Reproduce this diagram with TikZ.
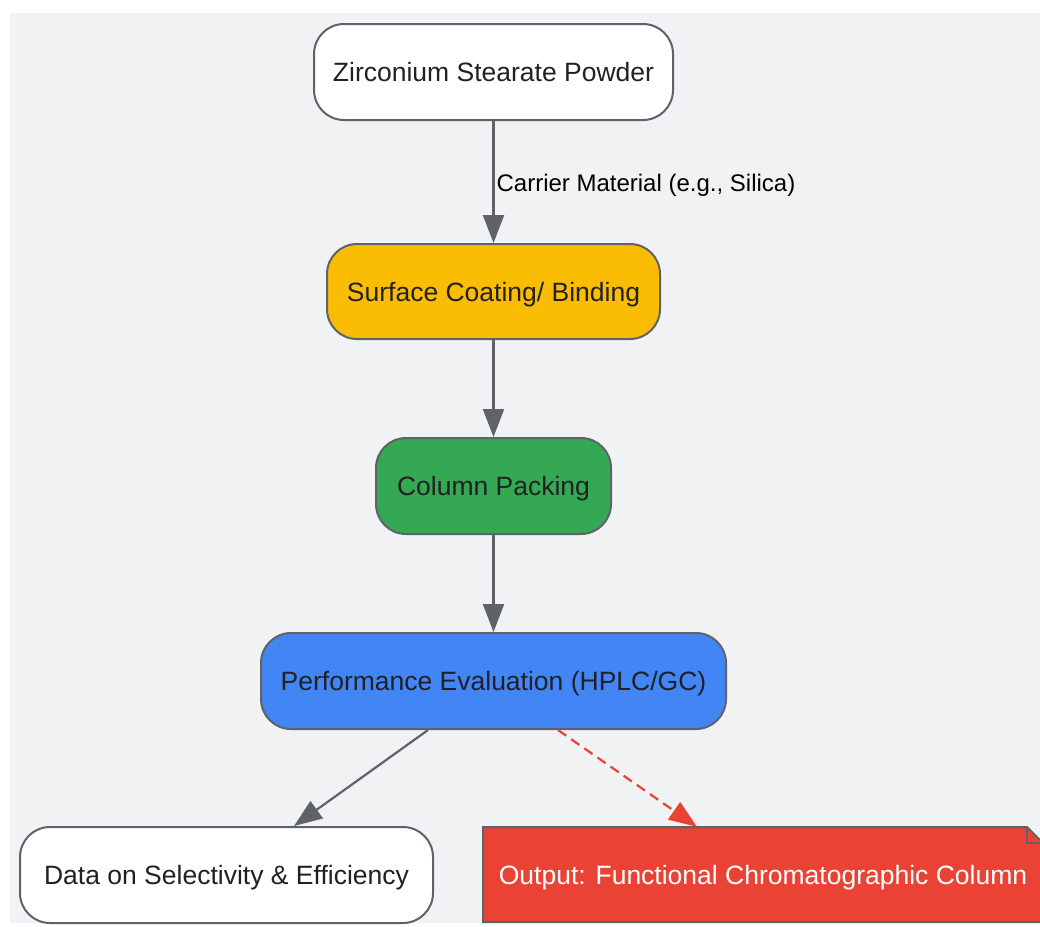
\documentclass[tikz,border=0pt]{standalone}
\usepackage{fontspec}
\setmainfont{Liberation Sans}
\usetikzlibrary{arrows.meta}
\definecolor{bgc}{HTML}{F1F2F4}
\definecolor{edgec}{HTML}{5F6368}
\definecolor{txtc}{HTML}{202124}
\definecolor{yel}{HTML}{FBBC04}
\definecolor{grn}{HTML}{34A853}
\definecolor{blu}{HTML}{4285F4}
\definecolor{rd}{HTML}{EA4335}
\tikzset{
  box/.style={draw=edgec, line width=2pt, rounded corners=30pt, minimum height=96pt,
    text=txtc, font=\fontsize{26.5}{30}\selectfont, inner sep=0pt, text height=19.5pt, text depth=0pt},
  flow/.style={draw=edgec, line width=2.2pt, -{Triangle[length=28pt,width=21pt]}},
  outflow/.style={draw=rd, line width=2.2pt, dash pattern=on 10pt off 6pt, -{Triangle[length=28pt,width=21pt]}},
  lbl/.style={font=\fontsize{24}{28}\selectfont, text=black, inner sep=0pt}
}
\begin{document}
\begin{tikzpicture}[x=1pt,y=-1pt]
\useasboundingbox (0,0) rectangle (1040,926);
\clip (0,0) rectangle (1040,926);
\fill[bgc] (10,13) rectangle (1040,923);
\node[box, fill=white, minimum width=359pt] (z) at (493.5,72) {Zirconium Stearate Powder};
\node[box, fill=yel, minimum width=333pt, minimum height=95pt] (s) at (493.5,291.5) {Surface Coating/ Binding};
\node[box, fill=grn, minimum width=235pt] (c) at (493.5,486) {Column Packing};
\node[box, fill=blu, minimum width=465pt] (p) at (493.5,681) {Performance Evaluation (HPLC/GC)};
\node[box, fill=white, minimum width=413pt] (d) at (226.5,875) {Data on Selectivity \& Efficiency};
% note-shaped output node
\fill[rd, draw=edgec, line width=2pt, line join=miter] (483,827) -- (1027,827) -- (1043,843) -- (1043,922) -- (483,922) -- cycle;
\draw[edgec, line width=2pt] (1027,827) -- (1027,843) -- (1043,843);
\node[text=white, font=\fontsize{26.5}{30}\selectfont, inner sep=0pt, text height=19.5pt, text depth=0pt, minimum width=560pt, minimum height=95pt] (o) at (763,874.5) {Output: Functional Chromatographic Column};
\draw[flow] (z) -- node[lbl, anchor=west, pos=0.52, xshift=2pt, yshift=-1pt] (l1) {Carrier Material (e.g., Silica)} (s);
\draw[flow] (s) -- (c);
\draw[flow] (c) -- (p);
\draw[flow] ([xshift=-65.5pt]p.south) -- ([xshift=67.5pt]d.north);
\draw[outflow] ([xshift=64.5pt]p.south) -- ([xshift=-66pt]o.north);
\end{tikzpicture}
\end{document}
